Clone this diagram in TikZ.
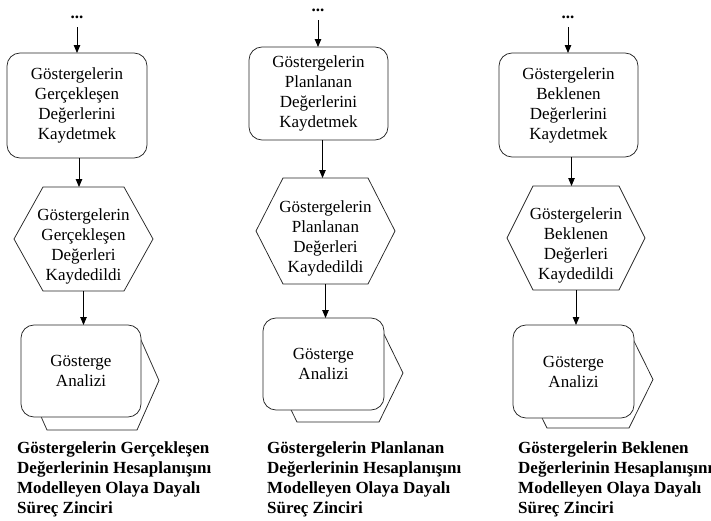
\documentclass[tikz,border=0pt]{standalone}
\usepackage{fontspec}
\setmainfont{Liberation Serif}
\usetikzlibrary{arrows.meta}

% hexagonal outline drawn on the border of a (frameless) rectangular node
\newcommand{\hexoutline}[3][]{%
  \draw[shapeline,#1] (#2.west) -- ([xshift=#3pt]#2.north west)
    -- ([xshift=-#3pt]#2.north east) -- (#2.east)
    -- ([xshift=-#3pt]#2.south east) -- ([xshift=#3pt]#2.south west) -- cycle;}

\tikzset{
  shapeline/.style={draw=black!85, line width=0.75pt},
  flowarrow/.style={draw=black, line width=0.8pt, -{Triangle[length=8pt,width=6.5pt]}},
  bodytext/.style={font=\fontsize{17}{20}\selectfont, align=center},
  funcbox/.style={shapeline, rectangle, rounded corners=13pt, fill=white,
    inner sep=0pt, outer sep=0pt, bodytext},
  frame/.style={rectangle, draw=none, inner sep=0pt, outer sep=0pt},
  dotsmark/.style={font=\fontsize{17}{20}\selectfont\bfseries, inner sep=0pt},
  chaintitle/.style={font=\fontsize{17}{20}\selectfont\bfseries, align=left,
    inner sep=0pt, anchor=north west},
}

\begin{document}
\begin{tikzpicture}[x=1pt, y=-1pt]
\useasboundingbox (0,0) rectangle (711,520);

% ---------------- chain 1 ----------------
\node[dotsmark] (d1) at (77,17.5) {...};
\node[funcbox, minimum width=140, minimum height=105] (f1) at (77,105.5)
  {Göstergelerin\\Gerçekleşen\\Değerlerini\\Kaydetmek};
\node[frame, minimum width=139, minimum height=104] (e1) at (83.5,239) {};
\hexoutline{e1}{29}
\node[bodytext] (e1t) at (83.5,246) {Göstergelerin\\Gerçekleşen\\Değerleri\\Kaydedildi};
\node[frame, minimum width=134, minimum height=99] (p1b) at (92,380.5) {};
\hexoutline[fill=white]{p1b}{22}
\node[funcbox, minimum width=120, minimum height=92] (p1) at (81,371) {Gösterge\\Analizi};
\node[chaintitle] (t1) at (17,441)
  {Göstergelerin Gerçekleşen\\Değerlerinin Hesaplanışını\\Modelleyen Olaya Dayalı\\Süreç Zinciri};

\draw[flowarrow, shorten <=8pt] (d1.south) -- (d1.south |- f1.north);
\draw[flowarrow] ([xshift=2pt]f1.south) -- ([xshift=2pt]f1.south |- e1.north);
\draw[flowarrow] (e1.south) -- (e1.south |- p1.north);

% ---------------- chain 2 ----------------
\node[dotsmark] (d2) at (318,10.5) {...};
\node[funcbox, minimum width=139, minimum height=93] (f2) at (318.5,93.5)
  {Göstergelerin\\Planlanan\\Değerlerini\\Kaydetmek};
\node[frame, minimum width=139, minimum height=106] (e2) at (325.5,231) {};
\hexoutline{e2}{27}
\node[bodytext] (e2t) at (325.5,238) {Göstergelerin\\Planlanan\\Değerleri\\Kaydedildi};
\node[frame, minimum width=130, minimum height=98] (p2b) at (338,373) {};
\hexoutline[fill=white]{p2b}{24}
\node[funcbox, minimum width=121, minimum height=92] (p2) at (323.5,364) {Gösterge\\Analizi};
\node[chaintitle] (t2) at (267,441)
  {Göstergelerin Planlanan\\Değerlerinin Hesaplanışını\\Modelleyen Olaya Dayalı\\Süreç Zinciri};

\draw[flowarrow, shorten <=8pt] (d2.south) -- (d2.south |- f2.north);
\draw[flowarrow] ([xshift=4pt]f2.south) -- ([xshift=4pt]f2.south |- e2.north);
\draw[flowarrow] (e2.south) -- (e2.south |- p2.north);

% ---------------- chain 3 ----------------
\node[dotsmark] (d3) at (568,17.5) {...};
\node[funcbox, minimum width=139, minimum height=104] (f3) at (568.5,105)
  {Göstergelerin\\Beklenen\\Değerlerini\\Kaydetmek};
\node[frame, minimum width=138, minimum height=104] (e3) at (576,238) {};
\hexoutline{e3}{26}
\node[bodytext] (e3t) at (576,245.5) {Göstergelerin\\Beklenen\\Değerleri\\Kaydedildi};
\node[frame, minimum width=130, minimum height=97] (p3b) at (588,379.5) {};
\hexoutline[fill=white]{p3b}{24}
\node[funcbox, minimum width=121, minimum height=93] (p3) at (573.5,371.5) {Gösterge\\Analizi};
\node[chaintitle] (t3) at (518,441)
  {Göstergelerin Beklenen\\Değerlerinin Hesaplanışını\\Modelleyen Olaya Dayalı\\Süreç Zinciri};

\draw[flowarrow, shorten <=8pt] (d3.south) -- (d3.south |- f3.north);
\draw[flowarrow] ([xshift=3pt]f3.south) -- ([xshift=3pt]f3.south |- e3.north);
\draw[flowarrow] (e3.south) -- (e3.south |- p3.north);

\end{tikzpicture}
\end{document}
